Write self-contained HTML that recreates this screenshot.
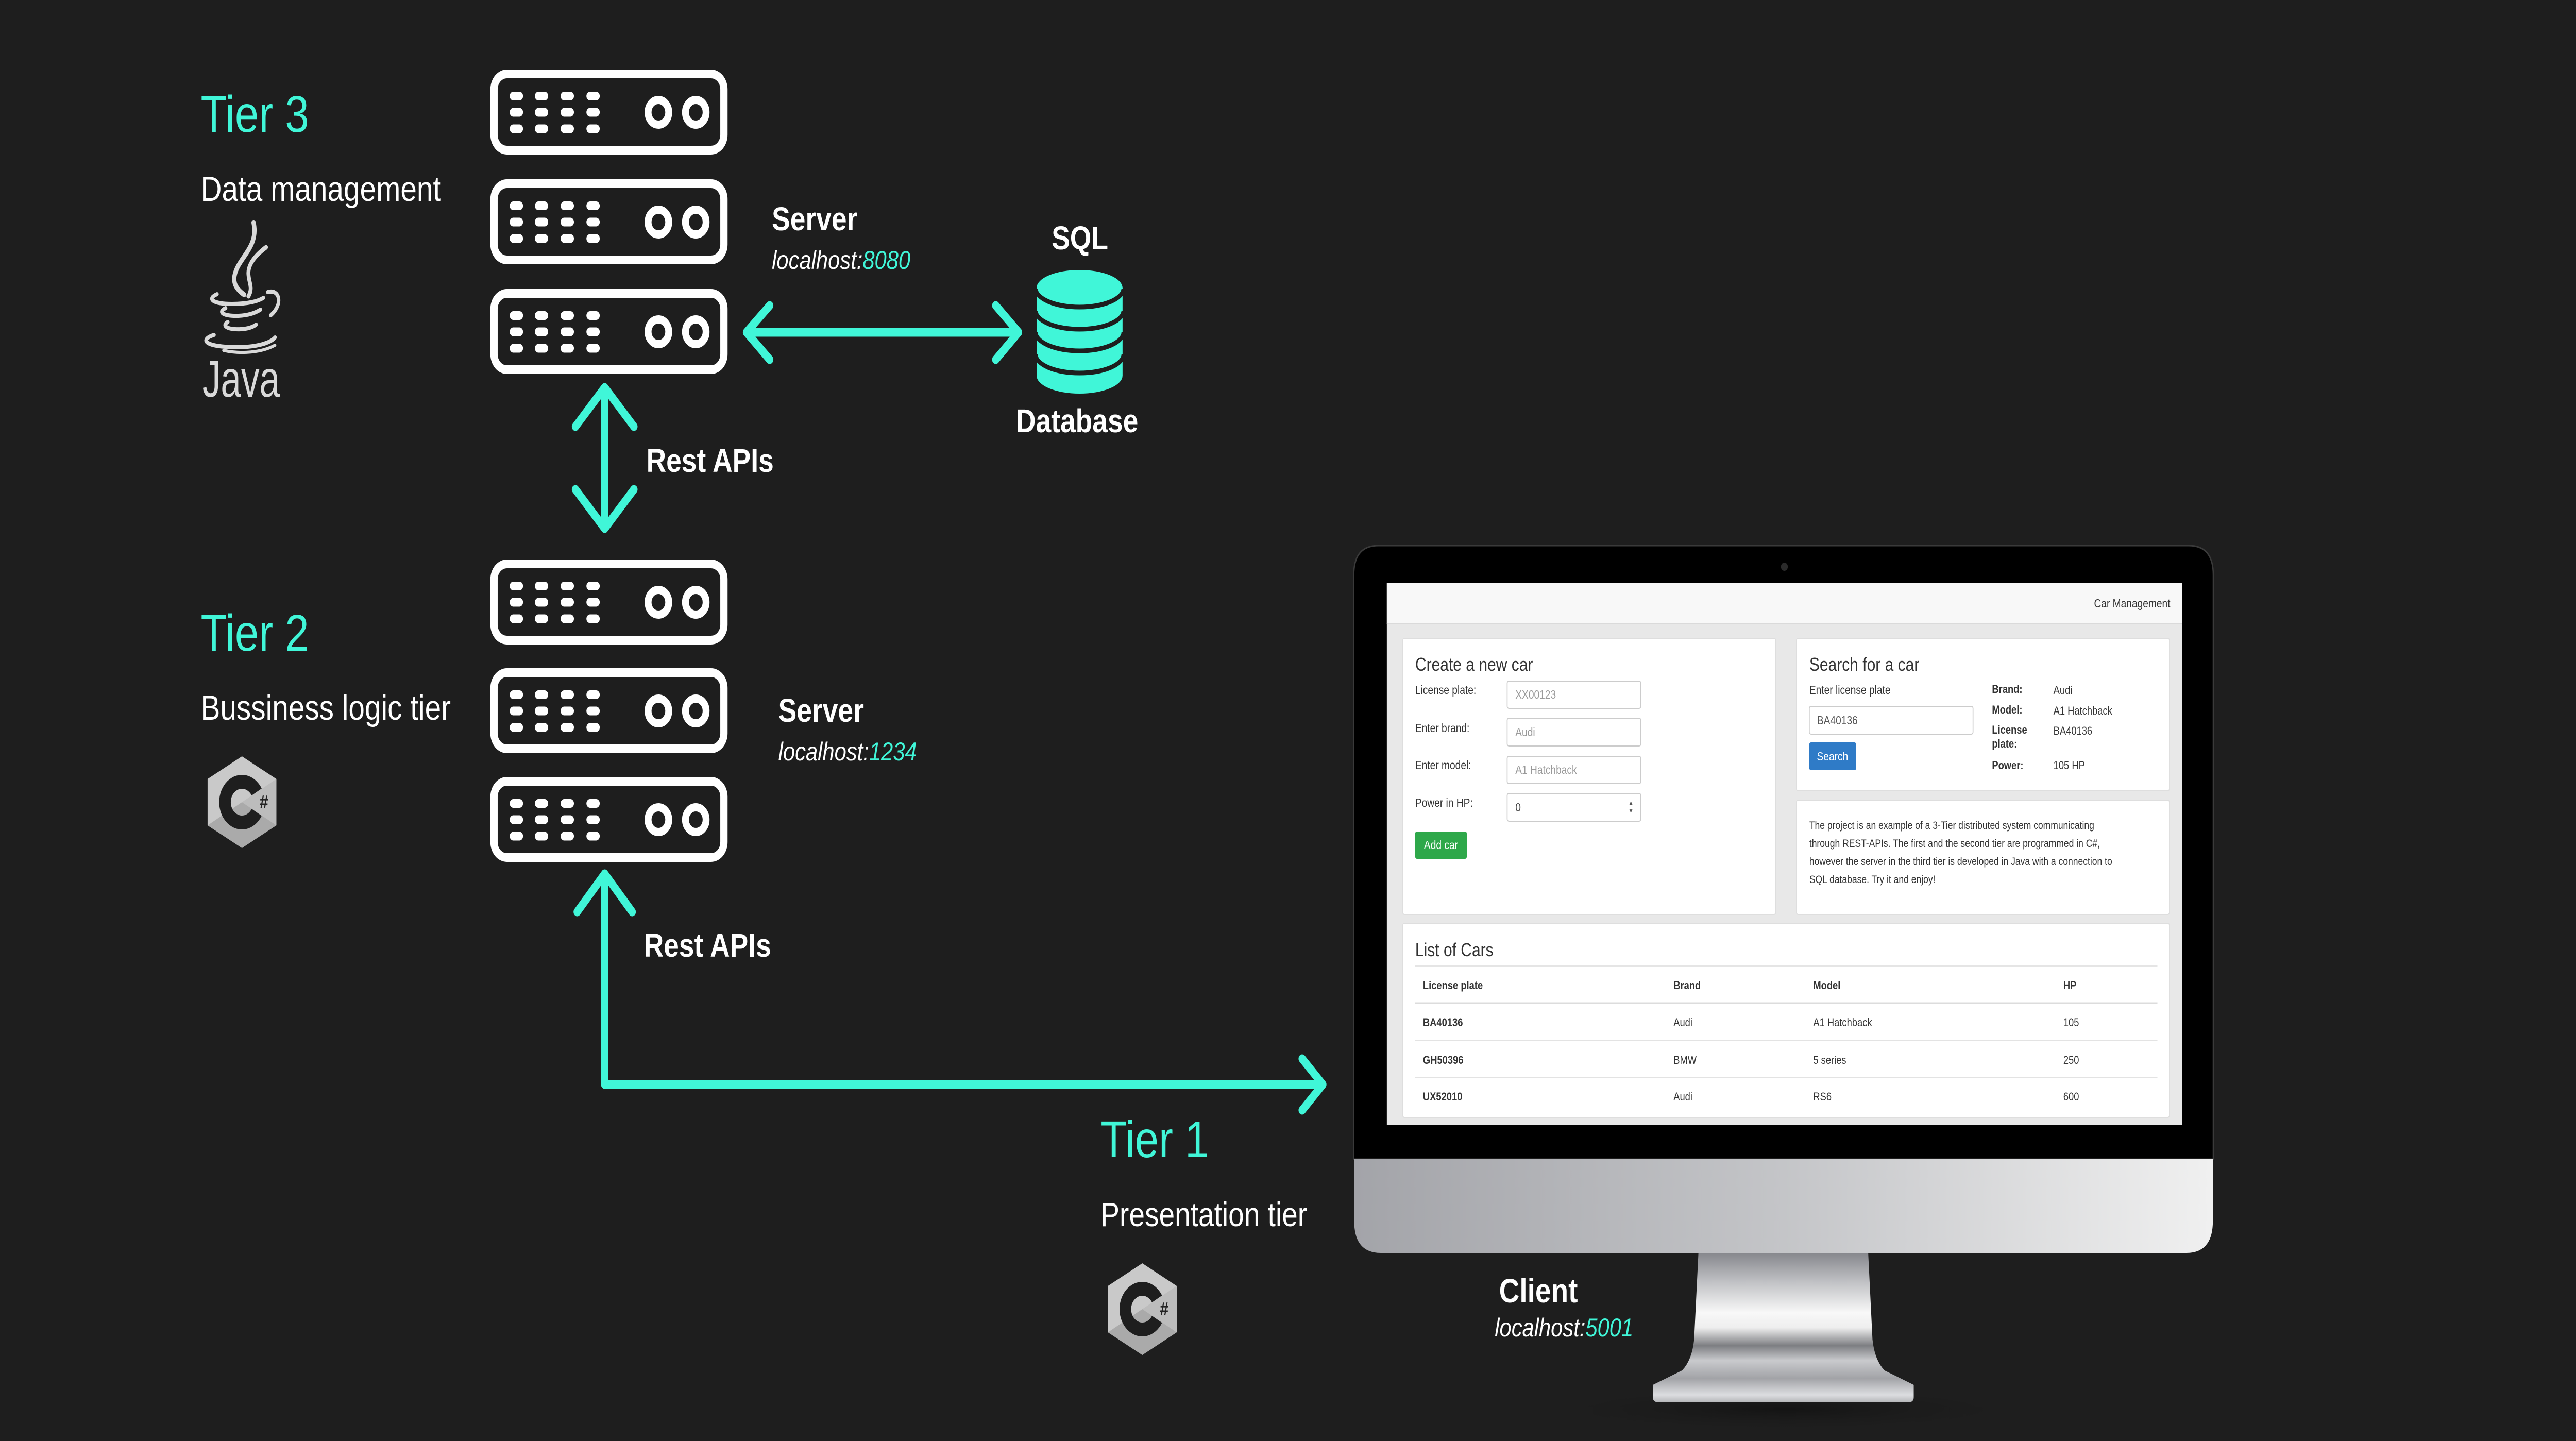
<!DOCTYPE html>
<html><head><meta charset="utf-8"><style>
html,body{margin:0;padding:0;background:#1e1e1e;width:100%;height:100%;overflow:hidden;}
svg{display:block;width:100vw;height:100vh;}
text{font-family:"Liberation Sans",Arial,sans-serif;}
</style></head><body>
<svg viewBox="0 0 5994 2797" preserveAspectRatio="none" xmlns="http://www.w3.org/2000/svg">
<defs>
<g id="srv">
<rect x="8.5" y="8.5" width="535" height="148" rx="30" fill="none" stroke="#fff" stroke-width="17"/>
<g fill="#fff">
<rect x="45" y="43" width="31" height="17" rx="8.5"/><rect x="103.5" y="43" width="31" height="17" rx="8.5"/><rect x="163.5" y="43" width="31" height="17" rx="8.5"/><rect x="223.5" y="43" width="31" height="17" rx="8.5"/>
<rect x="45" y="74.5" width="31" height="17" rx="8.5"/><rect x="103.5" y="74.5" width="31" height="17" rx="8.5"/><rect x="163.5" y="74.5" width="31" height="17" rx="8.5"/><rect x="223.5" y="74.5" width="31" height="17" rx="8.5"/>
<rect x="45" y="106.5" width="31" height="17" rx="8.5"/><rect x="103.5" y="106.5" width="31" height="17" rx="8.5"/><rect x="163.5" y="106.5" width="31" height="17" rx="8.5"/><rect x="223.5" y="106.5" width="31" height="17" rx="8.5"/>
</g>
<circle cx="391" cy="83" r="24" fill="none" stroke="#fff" stroke-width="16"/>
<circle cx="478" cy="83" r="24" fill="none" stroke="#fff" stroke-width="16"/>
</g>
<g id="cs">
<polygon points="0,-89 80,-45 80,45 0,89 -80,45 -80,-45" fill="#c9c9c9"/>
<polygon points="80,-45 80,45 0,0" fill="#bcbcbc"/>
<polygon points="-80,45 0,0 80,45 0,89" fill="#aaaaaa"/>
<path d="M45.9,-26.5 A53,53 0 1 0 45.9,26.5 L22.5,13 A26,26 0 1 1 22.5,-13 Z" fill="#1e1e1e"/>
<text x="51" y="12" font-size="36" font-weight="bold" fill="#222" text-anchor="middle">#</text>
</g>
<linearGradient id="chin" x1="0" y1="0" x2="1" y2="0">
<stop offset="0" stop-color="#a3a4a9"/><stop offset="0.5" stop-color="#c4c5c8"/><stop offset="1" stop-color="#f0f0f0"/>
</linearGradient>
<linearGradient id="stand" x1="0" y1="2432" x2="0" y2="2722" gradientUnits="userSpaceOnUse">
<stop offset="0" stop-color="#86878c"/><stop offset="0.2" stop-color="#c2c3c6"/><stop offset="0.4" stop-color="#f8f8f8"/>
<stop offset="0.5" stop-color="#eeeeee"/><stop offset="0.62" stop-color="#7d7e82"/><stop offset="0.72" stop-color="#c9cacd"/>
<stop offset="0.84" stop-color="#a2a3a7"/><stop offset="0.95" stop-color="#dcdde0"/><stop offset="1" stop-color="#b5b6b9"/>
</linearGradient>
<radialGradient id="shad" cx="0.5" cy="0.5" r="0.5">
<stop offset="0" stop-color="#111" stop-opacity="0.8"/><stop offset="1" stop-color="#1e1e1e" stop-opacity="0"/>
</radialGradient>
</defs>
<rect width="5994" height="2797" fill="#1e1e1e"/>

<use href="#srv" x="1141" y="135"/>
<use href="#srv" x="1141" y="348"/>
<use href="#srv" x="1141" y="561"/>
<use href="#srv" x="1141" y="1086"/>
<use href="#srv" x="1141" y="1297"/>
<use href="#srv" x="1141" y="1508"/>

<g fill="none" stroke="#40f6d8" stroke-width="17" stroke-linecap="round" stroke-linejoin="round">
<line x1="1745" y1="645" x2="2362" y2="645"/>
<polyline points="1791,593 1737,645 1791,698"/>
<polyline points="2317,593 2370,645 2317,698"/>
<line x1="1407" y1="760" x2="1407" y2="1020"/>
<polyline points="1339,828 1407,752 1475,828"/>
<polyline points="1339,950 1407,1026 1475,950"/>
<polyline points="1407,1700 1407,2105 3070,2105" stroke-linecap="butt"/>
<polyline points="1343,1770 1407,1696 1471,1770"/>
<polyline points="3030,2055 3078,2105 3030,2155"/>
</g>

<g>
<path d="M2412,559 V729 A100,35 0 0 0 2612,729 V559 Z" fill="#40f6d8"/>
<ellipse cx="2512" cy="559" rx="100" ry="35" fill="#40f6d8"/>
<g fill="none" stroke="#1e1e1e" stroke-width="9">
<path d="M2410,560 A102,36 0 0 0 2614,560"/>
<path d="M2410,603 A102,36 0 0 0 2614,603"/>
<path d="M2410,645 A102,36 0 0 0 2614,645"/>
<path d="M2410,688 A102,36 0 0 0 2614,688"/>
</g>
</g>

<text x="467" y="256" font-size="100" fill="#40f6d8">Tier 3</text>
<text x="467" y="390" font-size="68" fill="#fff">Data management</text>
<text x="467" y="1263" font-size="100" fill="#40f6d8">Tier 2</text>
<text x="467" y="1397" font-size="68" fill="#fff">Bussiness logic tier</text>
<text x="2561" y="2246" font-size="100" fill="#40f6d8">Tier 1</text>
<text x="2561" y="2380" font-size="66" fill="#fff">Presentation tier</text>

<text x="1796" y="447" font-size="64" font-weight="bold" fill="#fff">Server</text>
<text x="1796" y="522" font-size="50" font-style="italic" fill="#fff">localhost:<tspan fill="#40f6d8">8080</tspan></text>
<text x="1811" y="1401" font-size="64" font-weight="bold" fill="#fff">Server</text>
<text x="1811" y="1476" font-size="50" font-style="italic" fill="#fff">localhost:<tspan fill="#40f6d8">1234</tspan></text>
<text x="2447" y="484" font-size="64" font-weight="bold" fill="#fff">SQL</text>
<text x="2364" y="839" font-size="64" font-weight="bold" fill="#fff">Database</text>
<text x="1504" y="916" font-size="64" font-weight="bold" fill="#fff">Rest APIs</text>
<text x="1498" y="1857" font-size="64" font-weight="bold" fill="#fff">Rest APIs</text>
<text x="3488" y="2528" font-size="66" font-weight="bold" fill="#fff">Client</text>
<text x="3478" y="2594" font-size="50" font-style="italic" fill="#fff">localhost:<tspan fill="#40f6d8">5001</tspan></text>

<g fill="none" stroke="#d9d9d9" stroke-linecap="round">
<path d="M590,432 C600,470 572,490 555,515 C535,545 548,560 568,572" stroke-width="10"/>
<path d="M619,480 C595,495 578,512 578,530 C578,548 590,558 578,575" stroke-width="9"/>
<path d="M505,571 C480,580 495,590 540,590 C575,590 600,585 613,578" stroke-width="8"/>
<path d="M525,598 C505,606 520,614 555,613 C580,612 595,607 606,601" stroke-width="8"/>
<path d="M530,625 C515,632 528,640 560,639 C580,638 590,634 596,630" stroke-width="8"/>
<path d="M498,650 C462,660 478,673 548,674 C600,674 630,665 640,655" stroke-width="8"/>
<path d="M520,680 C560,688 610,684 640,670" stroke-width="6"/>
<path d="M623,567 C650,560 660,590 630,612" stroke-width="8"/>
</g>
<text x="471" y="770" font-size="100" fill="#d9d9d9" textLength="180" lengthAdjust="spacingAndGlyphs">Java</text>

<use href="#cs" x="563" y="1557"/>
<use href="#cs" x="2658" y="2541"/>

<ellipse cx="4150" cy="2735" rx="600" ry="45" fill="url(#shad)"/>
<path d="M3150,2250 V1116 Q3150,1059 3207,1059 H5093 Q5150,1059 5150,1116 V2250 Z" fill="#000" stroke="#3a3a3a" stroke-width="3"/>
<circle cx="4152" cy="1100" r="8" fill="#2a2a2a"/>
<path d="M3151,2249 H5149 V2370 Q5149,2432 5087,2432 H3213 Q3151,2432 3151,2370 Z" fill="url(#chin)"/>
<path d="M3952,2432 H4347 L4357,2600 Q4362,2640 4385,2660 L4453,2688 V2712 Q4453,2722 4440,2722 H3860 Q3846,2722 3846,2712 V2688 L3914,2660 Q3937,2640 3942,2600 Z" fill="url(#stand)"/>

<rect x="3227" y="1132" width="1850" height="1051" fill="#e8e8e8"/>
<rect x="3227" y="1132" width="1850" height="79" fill="#f8f8f8"/>
<line x1="3227" y1="1211" x2="5077" y2="1211" stroke="#dadada" stroke-width="2"/>
<text x="5050" y="1179" font-size="23" fill="#333" text-anchor="end">Car Management</text>

<g fill="#fff" stroke="#dedede" stroke-width="2">
<rect x="3264" y="1239" width="868" height="536" rx="4"/>
<rect x="4180" y="1239" width="868" height="296" rx="4"/>
<rect x="4180" y="1553" width="868" height="222" rx="4"/>
<rect x="3264" y="1792" width="1784" height="377" rx="4"/>
</g>

<g font-size="23" fill="#333">
<text x="3293" y="1302" font-size="36">Create a new car</text>
<text x="3293" y="1347">License plate:</text>
<text x="3293" y="1421">Enter brand:</text>
<text x="3293" y="1493">Enter model:</text>
<text x="3293" y="1566">Power in HP:</text>
</g>
<g fill="#fff" stroke="#cccccc" stroke-width="2">
<rect x="3507" y="1322" width="311" height="53" rx="4"/>
<rect x="3507" y="1394" width="311" height="54" rx="4"/>
<rect x="3507" y="1468" width="311" height="53" rx="4"/>
<rect x="3507" y="1540" width="311" height="54" rx="4"/>
<rect x="4210" y="1371" width="381" height="54" rx="4"/>
</g>
<g font-size="23" fill="#999">
<text x="3526" y="1356">XX00123</text>
<text x="3526" y="1429">Audi</text>
<text x="3526" y="1502">A1 Hatchback</text>
<text x="3526" y="1575" fill="#444">0</text>
<text x="3789" y="1562" font-size="12" fill="#555">▲</text>
<text x="3789" y="1578" font-size="12" fill="#555">▼</text>
<text x="4228" y="1406" fill="#555">BA40136</text>
</g>
<rect x="3293" y="1614" width="120" height="53" rx="4" fill="#2ea84a"/>
<text x="3353" y="1648" font-size="23" fill="#fff" text-anchor="middle">Add car</text>

<g font-size="23" fill="#333">
<text x="4210" y="1302" font-size="36">Search for a car</text>
<text x="4210" y="1347">Enter license plate</text>
</g>
<rect x="4210" y="1441" width="109" height="54" rx="4" fill="#2f7bc7"/>
<text x="4264" y="1476" font-size="23" fill="#fff" text-anchor="middle">Search</text>
<g font-size="22" fill="#333">
<text x="4635" y="1345" font-weight="bold">Brand:</text>
<text x="4635" y="1385" font-weight="bold">Model:</text>
<text x="4635" y="1424" font-weight="bold">License</text>
<text x="4635" y="1451" font-weight="bold">plate:</text>
<text x="4635" y="1493" font-weight="bold">Power:</text>
<text x="4778" y="1347">Audi</text>
<text x="4778" y="1387">A1 Hatchback</text>
<text x="4778" y="1426">BA40136</text>
<text x="4778" y="1493">105 HP</text>
</g>
<g font-size="21" fill="#333">
<text x="4210" y="1609">The project is an example of a 3-Tier distributed system communicating</text>
<text x="4210" y="1644">through REST-APIs. The first and the second tier are programmed in C#,</text>
<text x="4210" y="1679">however the server in the third tier is developed in Java with a connection to</text>
<text x="4210" y="1714">SQL database. Try it and enjoy!</text>
</g>

<text x="3293" y="1856" font-size="36" fill="#333">List of Cars</text>
<line x1="3293" y1="1875" x2="5020" y2="1875" stroke="#e5e5e5" stroke-width="2"/>
<g font-size="22" fill="#333">
<g font-weight="bold">
<text x="3311" y="1920">License plate</text><text x="3894" y="1920">Brand</text><text x="4219" y="1920">Model</text><text x="4801" y="1920">HP</text>
<text x="3311" y="1992">BA40136</text><text x="3311" y="2065">GH50396</text><text x="3311" y="2136">UX52010</text>
</g>
<text x="3894" y="1992">Audi</text><text x="4219" y="1992">A1 Hatchback</text><text x="4801" y="1992">105</text>
<text x="3894" y="2065">BMW</text><text x="4219" y="2065">5 series</text><text x="4801" y="2065">250</text>
<text x="3894" y="2136">Audi</text><text x="4219" y="2136">RS6</text><text x="4801" y="2136">600</text>
</g>
<line x1="3293" y1="1947" x2="5020" y2="1947" stroke="#dcdcdc" stroke-width="3"/>
<line x1="3293" y1="2019" x2="5020" y2="2019" stroke="#e3e3e3" stroke-width="2"/>
<line x1="3293" y1="2091" x2="5020" y2="2091" stroke="#e3e3e3" stroke-width="2"/>
</svg>
</body></html>
